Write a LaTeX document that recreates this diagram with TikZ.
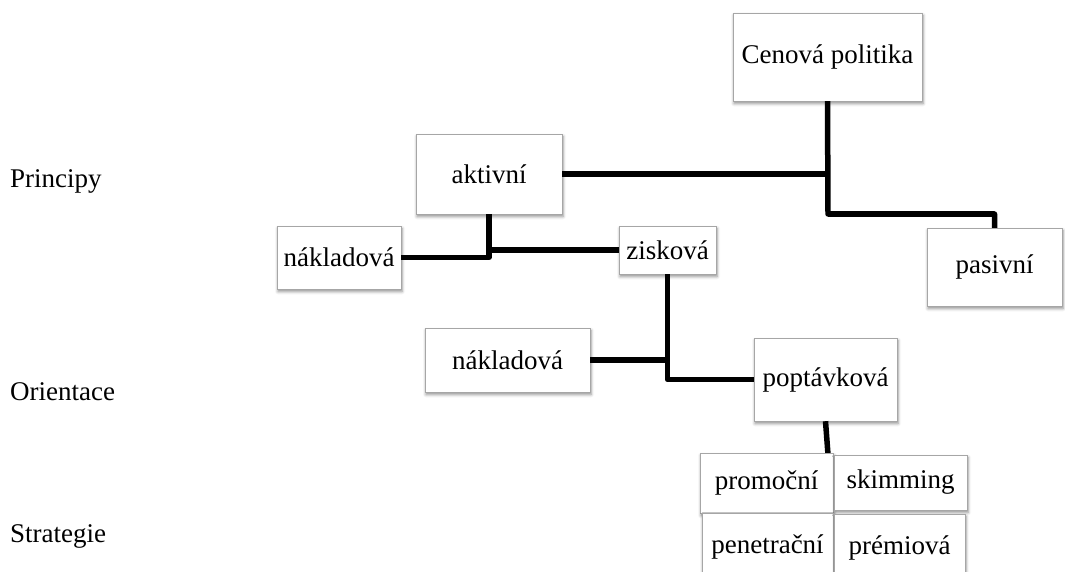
\documentclass[tikz,border=0pt]{standalone}
\usepackage{fontspec}
\setmainfont{Liberation Serif}
\usetikzlibrary{shadows.blur}
\usetikzlibrary{calc}

\begin{document}
\begin{tikzpicture}[x=1pt,y=-1pt,
  every node/.style={font=\fontsize{27}{31}\selectfont},
  box/.style={draw=gray!70,fill=white,inner sep=0pt,
    blur shadow={shadow xshift=1pt,shadow yshift=-2.5pt,shadow blur radius=3pt,shadow opacity=45}},
  link/.style={line width=5.5pt,black,line join=round}]
\useasboundingbox (0,0) rectangle (1065,572);

\node[anchor=base west,inner sep=0pt] (princ) at (10,188) {Principy};
\node[anchor=base west,inner sep=0pt] (orient) at (10,400) {Orientace};
\node[anchor=base west,inner sep=0pt] (strat) at (10,542) {Strategie};

\node[box,minimum width=189pt,minimum height=88pt] (cena) at (827.5,57) {Cenová politika};
\node[box,minimum width=146pt,minimum height=80pt] (aktivni) at (489,174) {aktivní};
\node[box,minimum width=135pt,minimum height=78pt] (pasivni) at (994.5,267) {pasivní};
\node[box,minimum width=124pt,minimum height=63pt] (naklad1) at (339,257.5) {nákladová};
\node[box,minimum width=97pt,minimum height=48pt] (zisk) at (667.5,250) {zisková};
\node[box,minimum width=165pt,minimum height=64pt] (naklad2) at (507.5,360) {nákladová};
\node[box,minimum width=143pt,minimum height=83pt] (poptavka) at (825.5,379.5) {poptávková};

\coordinate (j1) at (828,214);
\draw[link] (cena.south) -- (j1) -| (pasivni);
\draw[link] (aktivni.east) -- (aktivni.east -| j1);
\draw[link] (aktivni.south) |- (naklad1.east);
\draw[link] (aktivni.south |- zisk.west) -- (zisk.west);
\draw[link] (zisk.south) |- (poptavka.west);
\draw[link] (naklad2.east) -- (naklad2.east -| zisk.south);
\draw[link] (poptavka.south) -- ($(poptavka.south)+(3,40)$);

\node[box,minimum width=133pt,minimum height=60pt] (promocni) at (766.5,483) {promoční};
\node[box,minimum width=133pt,minimum height=55pt] (skimming) at (900.5,482.5) {skimming};
\node[box,minimum width=131pt,minimum height=68pt] (penetracni) at (767.5,547) {penetrační};
\node[box,minimum width=131pt,minimum height=67pt] (premiova) at (899.5,547.5) {prémiová};
\end{tikzpicture}
\end{document}
